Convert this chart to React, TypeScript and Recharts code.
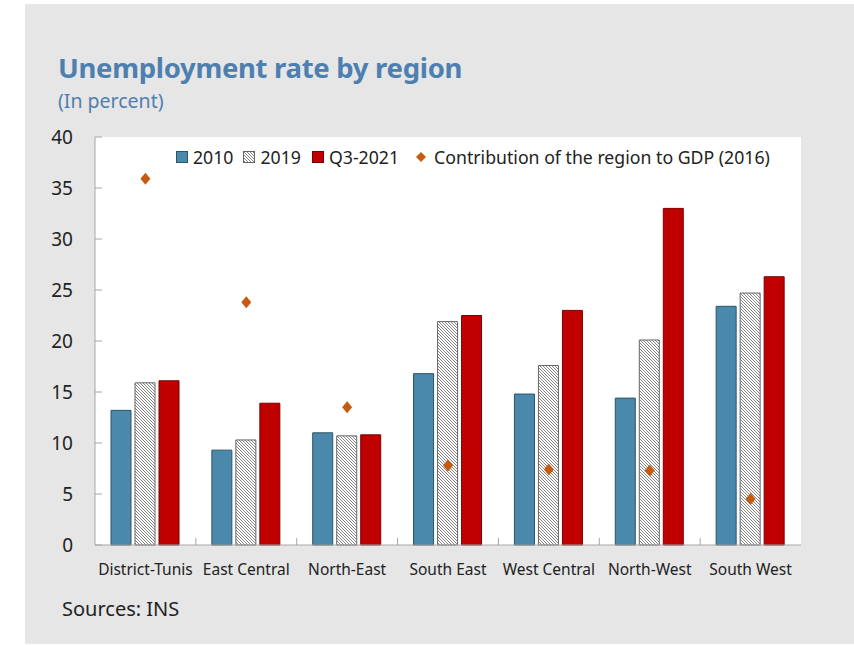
import React from 'react';
import {
  ComposedChart,
  Bar,
  Scatter,
  XAxis,
  YAxis,
  CartesianGrid,
  Legend,
} from 'recharts';

// Regions on the category axis
const REGIONS = [
  'District-Tunis',
  'East Central',
  'North-East',
  'South East',
  'West Central',
  'North-West',
  'South West',
];

// Unemployment rate (percent)
const RATE_2010 = [13.2, 9.3, 11.0, 16.8, 14.8, 14.4, 23.4];
const RATE_2019 = [15.9, 10.3, 10.7, 21.9, 17.6, 20.1, 24.7];
const RATE_Q3_2021 = [16.1, 13.9, 10.8, 22.5, 23.0, 33.0, 26.3];

// Contribution of the region to GDP, 2016 (percent)
const GDP_SHARE_2016 = [35.9, 23.8, 13.5, 7.8, 7.4, 7.3, 4.5];

const Y_TICKS = [0, 5, 10, 15, 20, 25, 30, 35, 40];

const FONT = '"Noto Sans", "Open Sans", sans-serif';
const TEXT = '#222';
const AXIS = '#a6a6a6';
const BLUE = '#4a89ab';
const RED = '#c00000';
const ORANGE = '#c65a11';
const TITLE = '#4d80b0';

const chartData = REGIONS.map((region, i) => ({
  region,
  y2010: RATE_2010[i],
  y2019: RATE_2019[i],
  q32021: RATE_Q3_2021[i],
  gdp: GDP_SHARE_2016[i],
}));

const YTick = (props: any) => {
  const { x, y, payload } = props;
  return (
    <g>
      <line x1={x} x2={x + 7} y1={y} y2={y} stroke={AXIS} />
      <text x={x - 22} y={y} dy="0.355em" textAnchor="end" fontSize={19} fill={TEXT} fontFamily={FONT}>
        {payload.value}
      </text>
    </g>
  );
};

const XTick = (props: any) => {
  const { x, y, payload, index } = props;
  const half = payload && typeof payload.offset === 'number' ? payload.offset : 50.4;
  return (
    <g>
      {index > 0 && <line x1={x - half} x2={x - half} y1={y} y2={y - 7} stroke={AXIS} />}
      <text x={x} y={y + 30} textAnchor="middle" fontSize={15.5} fill={TEXT} fontFamily={FONT}>
        {payload.value}
      </text>
    </g>
  );
};

const Diamond = (props: any) => {
  const { cx, cy } = props;
  if (cx == null || cy == null) return null;
  return <polygon points={`${cx},${cy - 6} ${cx + 5},${cy} ${cx},${cy + 6} ${cx - 5},${cy}`} fill={ORANGE} />;
};

const LegendContent = () => {
  const item = (icon: React.ReactNode, label: string, gap: number, lead: number) => (
    <span style={{ display: 'inline-flex', alignItems: 'center', marginRight: gap }}>
      {icon}
      <span style={{ marginLeft: lead }}>{label}</span>
    </span>
  );
  const square = (fill: string, stroke: string) => (
    <svg width={12} height={12}>
      <rect x={0.5} y={0.5} width={11} height={11} fill={fill} stroke={stroke} />
    </svg>
  );
  return (
    <div
      style={{
        display: 'flex',
        alignItems: 'center',
        fontFamily: FONT,
        fontSize: 17.7,
        lineHeight: '22px',
        color: TEXT,
        whiteSpace: 'nowrap',
      }}
    >
      {item(square(BLUE, '#2b5468'), '2010', 10, 5)}
      {item(square('url(#hatch)', '#666'), '2019', 11, 5)}
      {item(square(RED, '#7a0000'), 'Q3-2021', 17, 5)}
      {item(
        <svg width={10} height={12}>
          <polygon points="5,1 10,6 5,11 0,6" fill={ORANGE} />
        </svg>,
        'Contribution of the region to GDP (2016)',
        0,
        8
      )}
    </div>
  );
};

export default function App() {
  return (
    <div
      style={{
        position: 'absolute',
        left: 0,
        top: 0,
        width: 854,
        height: 645,
        background: '#fff',
        fontFamily: FONT,
      }}
    >
      <div style={{ position: 'absolute', left: 25, top: 4, width: 829, height: 640, background: '#e6e6e6' }} />
      <div
        style={{
          position: 'absolute',
          left: 58,
          top: 49,
          fontSize: 27.5,
          fontWeight: 700,
          color: TITLE,
          letterSpacing: -0.3,
        }}
      >
        Unemployment rate by region
      </div>
      <div style={{ position: 'absolute', left: 58, top: 87, fontSize: 19.5, color: TITLE }}>(In percent)</div>
      <div style={{ position: 'absolute', left: 62, top: 595, fontSize: 20, color: TEXT }}>Sources: INS</div>

      <div style={{ position: 'absolute', left: 0, top: 0 }}>
        <ComposedChart
          width={854}
          height={645}
          data={chartData}
          margin={{ top: 137, right: 53, bottom: 70, left: 40 }}
          barSize={20}
          barGap={4}
        >
          <defs>
            <pattern id="hatch" patternUnits="userSpaceOnUse" width={3} height={3}>
              <rect width={3} height={3} fill="#fff" />
              <path d="M-1,-1 L4,4 M-1,2 L1,4 M2,-1 L4,1" stroke="#666" strokeWidth={0.8} />
            </pattern>
          </defs>
          <CartesianGrid horizontal={false} vertical={false} fill="#fff" />
          <XAxis
            dataKey="region"
            height={30}
            tickLine={false}
            tickSize={0}
            tickMargin={0}
            axisLine={{ stroke: AXIS }}
            tick={<XTick />}
            interval={0}
          />
          <XAxis
            xAxisId="top"
            dataKey="region"
            orientation="top"
            height={0}
            tick={false}
            tickLine={false}
            axisLine={{ stroke: AXIS }}
          />
          <YAxis
            domain={[0, 40]}
            ticks={Y_TICKS}
            width={55}
            tickLine={false}
            tickSize={0}
            tickMargin={0}
            axisLine={{ stroke: AXIS }}
            tick={<YTick />}
            interval={0}
          />
          <YAxis
            yAxisId="right"
            orientation="right"
            domain={[0, 40]}
            width={0}
            tick={false}
            tickLine={false}
            axisLine={{ stroke: AXIS }}
          />
          <Legend
            verticalAlign="middle"
            align="center"
            layout="horizontal"
            wrapperStyle={{ top: 146, left: 176, width: 'auto' }}
            content={<LegendContent />}
          />
          <Bar dataKey="y2010" name="2010" fill={BLUE} stroke="#2b5468" isAnimationActive={false} />
          <Bar dataKey="y2019" name="2019" fill="url(#hatch)" stroke="#666" isAnimationActive={false} />
          <Bar dataKey="q32021" name="Q3-2021" fill={RED} stroke="#7a0000" isAnimationActive={false} />
          <Scatter
            dataKey="gdp"
            name="Contribution of the region to GDP (2016)"
            fill={ORANGE}
            shape={<Diamond />}
            isAnimationActive={false}
          />
        </ComposedChart>
      </div>
    </div>
  );
}
